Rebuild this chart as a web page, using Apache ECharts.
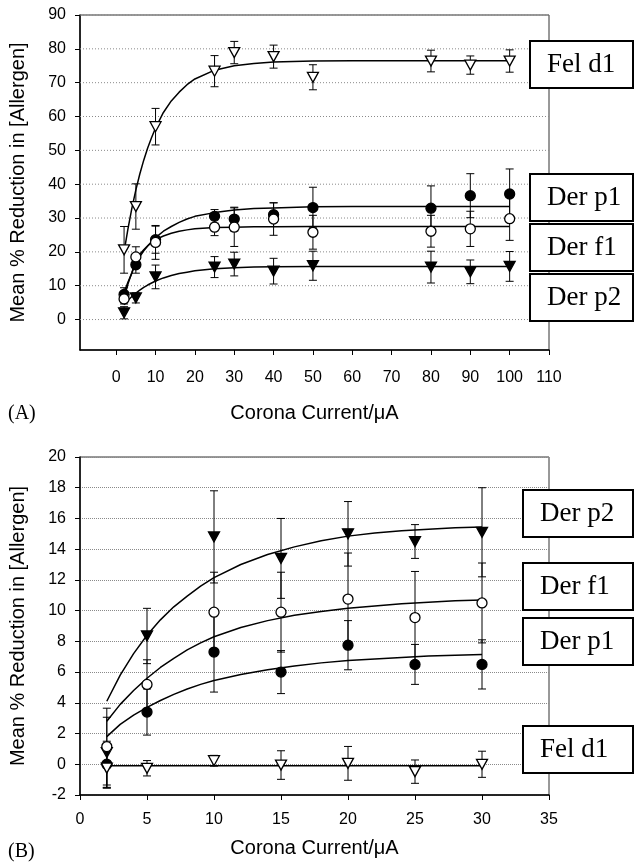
<!DOCTYPE html>
<html>
<head>
<meta charset="utf-8">
<script src="https://cdn.jsdelivr.net/npm/echarts@6/dist/echarts.min.js"></script>
<style>
  html, body { margin: 0; padding: 0; background: #fff; }
  #chart { width: 635px; height: 862px; }
</style>
</head>
<body>
<div id="chart"></div>
<script>
// ======================
// DATA - panel A
// ======================
const xA = [2, 5, 10, 25, 30, 40, 50, 80, 90, 100];
const felA = [20.6, 33.4, 57.0, 73.4, 78.9, 77.7, 71.6, 76.4, 75.2, 76.4];
const felAErr = [6.9, 6.7, 5.4, 4.6, 3.3, 3.4, 3.7, 3.2, 2.7, 3.3];
const derp1A = [7.4, 16.2, 23.6, 30.5, 29.7, 31.0, 33.1, 32.9, 36.6, 37.1];
const derp1AErr = [2.0, 2.5, 4.0, 2.0, 3.5, 3.5, 6.0, 6.6, 6.5, 7.4];
const derf1A = [6.1, 18.5, 22.8, 27.3, 27.3, 29.7, 25.8, 26.1, 26.8, 29.8];
const derf1AErr = [1.5, 3.0, 5.0, 2.5, 5.7, 4.8, 5.0, 4.7, 5.2, 6.4];
const derp2A = [2.0, 6.4, 12.6, 15.5, 16.4, 14.3, 15.9, 15.5, 14.1, 15.7];
const derp2AErr = [1.8, 1.5, 3.5, 3.1, 3.5, 3.8, 4.3, 4.7, 3.5, 4.4];

// fitted curves
const fitXA = [2, 3, 4, 5, 6, 7, 8, 9, 10, 12, 14, 16, 18, 20, 25, 30, 35, 40, 50, 60, 70, 80, 90, 100];
const felFitA = [20.0, 26.9, 33.0, 38.3, 43.0, 47.1, 50.7, 53.8, 56.6, 61.2, 64.6, 67.2, 69.4, 71.1, 73.7, 75.0, 75.7, 76.1, 76.4, 76.5, 76.5, 76.5, 76.5, 76.5];
const derp1FitA = [8.0, 11.1, 13.8, 16.8, 18.6, 20.3, 21.7, 23.0, 24.2, 26.1, 27.5, 28.7, 29.7, 30.5, 31.6, 32.4, 32.8, 33.0, 33.3, 33.4, 33.4, 33.4, 33.4, 33.4];
const derf1FitA = [6.4, 10.6, 13.9, 17.7, 19.3, 20.6, 21.8, 22.8, 23.6, 24.7, 25.5, 26.1, 26.5, 26.8, 27.2, 27.3, 27.4, 27.4, 27.5, 27.5, 27.5, 27.5, 27.5, 27.5];
const derp2FitA = [4.4, 5.7, 6.8, 7.8, 8.7, 9.5, 10.2, 10.8, 11.4, 12.3, 13.0, 13.6, 14.0, 14.4, 15.0, 15.3, 15.5, 15.6, 15.7, 15.7, 15.7, 15.7, 15.7, 15.7];

const xTicksA = [0, 10, 20, 30, 40, 50, 60, 70, 80, 90, 100, 110];
const yTicksA = [0, 10, 20, 30, 40, 50, 60, 70, 80, 90];

// ======================
// DATA - panel B
// ======================
const xB = [2, 5, 10, 15, 20, 25, 30];
const derp2B = [0.76, 8.35, 14.8, 13.4, 15.0, 14.5, 15.1];
const derp2BErr = [2.3, 1.8, 3.0, 2.6, 2.1, 1.1, 2.9];
const derf1B = [1.15, 5.2, 9.9, 9.9, 10.75, 9.55, 10.5];
const derf1BErr = [2.5, 1.6, 2.6, 2.6, 3.0, 3.0, 2.6];
const derp1B = [0.0, 3.4, 7.3, 6.0, 7.75, 6.5, 6.5];
const derp1BErr = [1.5, 1.5, 2.6, 1.4, 1.6, 1.3, 1.6];
const felB = [-0.25, -0.26, 0.23, -0.05, 0.06, -0.48, 0.0];
const felBErr = [1.3, 0.5, 0.35, 0.93, 1.1, 0.76, 0.85];

const fitXB = [2, 3, 4, 5, 6, 7, 8, 9, 10, 12, 14, 16, 18, 20, 22, 24, 26, 28, 30];
const derp2FitB = [4.1, 5.8, 7.2, 8.4, 9.4, 10.25, 10.95, 11.6, 12.15, 13.0, 13.65, 14.15, 14.55, 14.85, 15.05, 15.2, 15.3, 15.4, 15.45];
const derf1FitB = [2.8, 3.9, 4.8, 5.6, 6.3, 6.9, 7.45, 7.9, 8.3, 8.9, 9.35, 9.7, 9.95, 10.15, 10.3, 10.45, 10.55, 10.65, 10.7];
const derp1FitB = [1.8, 2.6, 3.2, 3.7, 4.15, 4.55, 4.9, 5.2, 5.45, 5.85, 6.15, 6.4, 6.6, 6.75, 6.85, 6.95, 7.05, 7.1, 7.15];
const felFitXB = [2, 30];
const felFitB = [-0.1, -0.1];

const labelsA = ['Fel d1', 'Der p1', 'Der f1', 'Der p2'];
const labelsB = ['Der p2', 'Der f1', 'Der p1', 'Fel d1'];

// ======================
// HELPERS
// ======================
const SANS = 'Liberation Sans, Arial, sans-serif';
const SERIF = 'Liberation Serif, Times New Roman, serif';

const zip = (xs, ys) => xs.map((x, i) => [x, ys[i]]);

function errorBars(xs, ys, errs, idx) {
    return {
        type: 'custom',
        xAxisIndex: idx,
        yAxisIndex: idx,
        silent: true,
        z: 3,
        encode: { x: 0, y: [1, 2] },
        data: xs.map((x, i) => [x, ys[i] - errs[i], ys[i] + errs[i]]),
        renderItem: (params, api) => {
            const lo = api.coord([api.value(0), api.value(1)]);
            const hi = api.coord([api.value(0), api.value(2)]);
            const w = 4;
            const style = { stroke: '#000', lineWidth: 1 };
            return {
                type: 'group',
                children: [
                    { type: 'line', shape: { x1: lo[0], y1: lo[1], x2: hi[0], y2: hi[1] }, style },
                    { type: 'line', shape: { x1: lo[0] - w, y1: lo[1], x2: lo[0] + w, y2: lo[1] }, style },
                    { type: 'line', shape: { x1: hi[0] - w, y1: hi[1], x2: hi[0] + w, y2: hi[1] }, style },
                ],
            };
        },
    };
}

function markers(xs, ys, kind, idx) {
    const filled = kind === 'dot' || kind === 'tri';
    const tri = kind === 'tri' || kind === 'otri';
    return {
        type: 'scatter',
        xAxisIndex: idx,
        yAxisIndex: idx,
        silent: true,
        z: 5,
        symbol: tri ? 'triangle' : 'circle',
        symbolRotate: tri ? 180 : 0,
        symbolSize: tri ? [11, 10] : 10,
        itemStyle: {
            color: filled ? '#000' : '#fff',
            borderColor: '#000',
            borderWidth: 1.3,
            opacity: 1,
        },
        data: zip(xs, ys),
    };
}

function fitLine(xs, ys, idx) {
    return {
        type: 'line',
        xAxisIndex: idx,
        yAxisIndex: idx,
        silent: true,
        z: 4,
        smooth: false,
        showSymbol: false,
        symbol: 'none',
        lineStyle: { color: '#000', width: 1.5 },
        data: zip(xs, ys),
    };
}

// dotted horizontal gridlines for panel A (its axis min is not a tick)
function gridLinesA(values) {
    return {
        type: 'custom',
        xAxisIndex: 0,
        yAxisIndex: 0,
        silent: true,
        z: 1,
        encode: { x: 0, y: 1 },
        data: values.map(v => [xTicksA[0], v]),
        renderItem: (params, api) => {
            const p = api.coord([api.value(0), api.value(1)]);
            const cs = params.coordSys;
            return {
                type: 'line',
                shape: { x1: cs.x, y1: p[1], x2: cs.x + cs.width, y2: p[1] },
                style: { stroke: '#8a8a8a', lineWidth: 1, lineDash: [1, 2] },
            };
        },
    };
}

function legendBoxes(names, left, tops, width) {
    const out = [];
    names.forEach((name, i) => {
        out.push({
            type: 'rect',
            z: 100,
            shape: { x: left, y: tops[i], width: width, height: 47 },
            style: { fill: '#fff', stroke: '#000', lineWidth: 2 },
        });
        out.push({
            type: 'text',
            z: 101,
            x: left + 17,
            y: tops[i] + 24,
            style: {
                text: name,
                font: '27px ' + SERIF,
                fill: '#000',
                verticalAlign: 'middle',
            },
        });
    });
    return out;
}

const axisLabelStyle = { color: '#000', fontSize: 16, fontFamily: SANS };
const axisNameStyle = { color: '#000', fontSize: 20, fontFamily: SANS };
const axisLineStyle = { show: true, onZero: false, lineStyle: { color: '#000', width: 1.5 } };
const gridLine = { show: true, lineStyle: { color: '#8a8a8a', type: 'dotted', width: 1 } };

// ======================
// CHART
// ======================
const chart = echarts.init(document.getElementById('chart'), null, { renderer: 'canvas' });

chart.setOption({
    backgroundColor: '#fff',
    animation: false,
    grid: [
        { left: 77, top: 15, width: 472, height: 335, show: true, borderColor: '#333', borderWidth: 1 },
        { left: 77, top: 457, width: 472, height: 338, show: true, borderColor: '#333', borderWidth: 1 },
    ],
    xAxis: [
        {
            gridIndex: 0, type: 'value', min: -9.2, max: 110,
            name: 'Corona Current/\u03bcA', nameLocation: 'middle', nameGap: 53,
            nameTextStyle: axisNameStyle,
            axisLine: axisLineStyle,
            axisTick: { show: true, length: 5, customValues: xTicksA, lineStyle: { color: '#000' } },
            axisLabel: Object.assign({ margin: 20, customValues: xTicksA }, axisLabelStyle),
            splitLine: { show: false },
        },
        {
            gridIndex: 1, type: 'value', min: 0, max: 35, interval: 5,
            name: 'Corona Current/\u03bcA', nameLocation: 'middle', nameGap: 43,
            nameTextStyle: axisNameStyle,
            axisLine: axisLineStyle,
            axisTick: { show: true, length: 5, lineStyle: { color: '#000' } },
            axisLabel: Object.assign({ margin: 17 }, axisLabelStyle),
            splitLine: { show: false },
        },
    ],
    yAxis: [
        {
            gridIndex: 0, type: 'value', min: -9, max: 90,
            name: 'Mean % Reduction in [Allergen]', nameLocation: 'middle', nameGap: 52,
            nameTextStyle: axisNameStyle,
            axisLine: axisLineStyle,
            axisTick: { show: true, length: 5, customValues: yTicksA, lineStyle: { color: '#000' } },
            axisLabel: Object.assign({ margin: 14, customValues: yTicksA }, axisLabelStyle),
            splitLine: { show: false },
        },
        {
            gridIndex: 1, type: 'value', min: -2, max: 20, interval: 2,
            name: 'Mean % Reduction in [Allergen]', nameLocation: 'middle', nameGap: 52,
            nameTextStyle: axisNameStyle,
            axisLine: axisLineStyle,
            axisTick: { show: true, length: 5, lineStyle: { color: '#000' } },
            axisLabel: Object.assign({ margin: 14 }, axisLabelStyle),
            splitLine: gridLine,
        },
    ],
    series: [
        // panel A
        gridLinesA(yTicksA),
        errorBars(xA, felA, felAErr, 0),
        errorBars(xA, derp1A, derp1AErr, 0),
        errorBars(xA, derf1A, derf1AErr, 0),
        errorBars(xA, derp2A, derp2AErr, 0),
        fitLine(fitXA, felFitA, 0),
        fitLine(fitXA, derp1FitA, 0),
        fitLine(fitXA, derf1FitA, 0),
        fitLine(fitXA, derp2FitA, 0),
        markers(xA, felA, 'otri', 0),
        markers(xA, derp1A, 'dot', 0),
        markers(xA, derf1A, 'odot', 0),
        markers(xA, derp2A, 'tri', 0),
        // panel B
        errorBars(xB, derp2B, derp2BErr, 1),
        errorBars(xB, derf1B, derf1BErr, 1),
        errorBars(xB, derp1B, derp1BErr, 1),
        errorBars(xB, felB, felBErr, 1),
        fitLine(fitXB, derp2FitB, 1),
        fitLine(fitXB, derf1FitB, 1),
        fitLine(fitXB, derp1FitB, 1),
        fitLine(felFitXB, felFitB, 1),
        markers(xB, derp2B, 'tri', 1),
        markers(xB, derf1B, 'odot', 1),
        markers(xB, derp1B, 'dot', 1),
        markers(xB, felB, 'otri', 1),
    ],
    graphic: [
        ...legendBoxes(labelsA, 530, [41, 174, 224, 274], 103),
        ...legendBoxes(labelsB, 523, [490, 563, 618, 726], 110),
        { type: 'text', x: 8, y: 414, style: { text: '(A)', font: '20px ' + SERIF, fill: '#000', verticalAlign: 'middle' } },
        { type: 'text', x: 8, y: 852, style: { text: '(B)', font: '20px ' + SERIF, fill: '#000', verticalAlign: 'middle' } },
    ],
});
</script>
</body>
</html>
